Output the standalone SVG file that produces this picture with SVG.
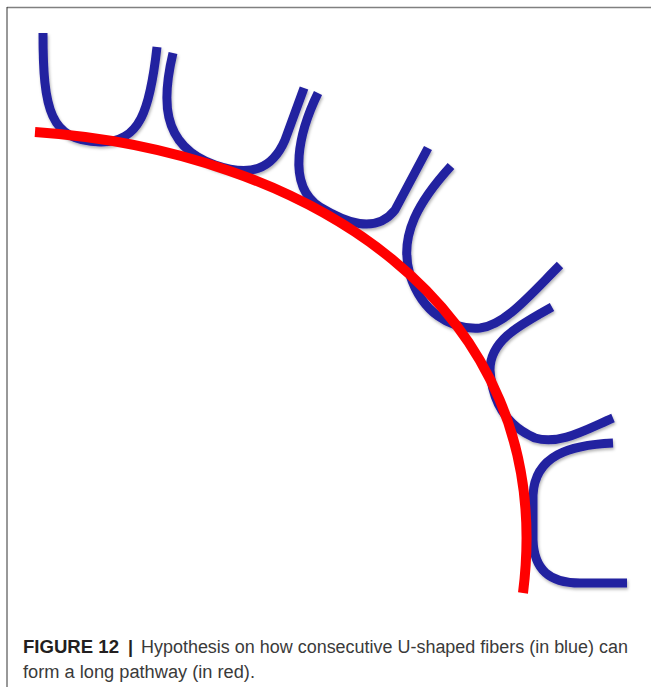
<svg xmlns="http://www.w3.org/2000/svg" width="651" height="687" viewBox="0 0 651 687">
  <style>
    .fiber { fill: none; stroke: #2420a0; stroke-width: 9; stroke-linecap: butt; stroke-linejoin: round; filter: url(#shadow); }
    .path { fill: none; stroke: #ff0000; stroke-width: 10; stroke-linecap: butt; }
    .cap { font-family: "Liberation Sans", Arial, sans-serif; font-size: 18px; fill: #3a3a3a; }
    .bold { font-weight: bold; fill: #231f20; }
  </style>
  <defs>
    <filter id="shadow" x="-20%" y="-20%" width="140%" height="140%">
      <feDropShadow dx="1" dy="2" stdDeviation="1.5" flood-color="#000" flood-opacity="0.3"/>
    </filter>
  </defs>
  <rect width="651" height="687" fill="#ffffff"/>
  <line x1="7" y1="7.5" x2="651" y2="7.5" stroke="#808080" stroke-width="1.5"/>
  <line x1="7" y1="7" x2="7" y2="687" stroke="#333333" stroke-width="1"/>

  <g id="fibers">
    <g id="fiber1"><path class="fiber" d="M43,33 C43,110 50,141 100,142 C140,143 150,110 157,47"/></g>
    <g id="fiber2"><path class="fiber" d="M173,53 C163,95 158,145 215,165 C250,177 272,170 285,140 L304,88"/></g>
    <g id="fiber3"><path class="fiber" d="M318,93 C300,130 285,185 320,207 C345,222 375,235 395,210 L428,148"/></g>
    <g id="fiber4"><path class="fiber" d="M451,166 C420,200 398,235 410,275 C422,312 450,330 480,328 C505,325 530,295 560,265"/></g>
    <g id="fiber5"><path class="fiber" d="M552,307 C520,325 490,340 490,370 C492,400 505,425 535,438 C560,445 585,430 613,418"/></g>
    <g id="fiber6"><path class="fiber" d="M613,443 C570,445 535,455 533,495 L533,540 C534,570 550,583 580,583 L627,583"/></g>
  </g>

  <g id="pathway">
    <path class="path" d="M35,132 C300,150 560,300 523,593"/>
  </g>

  <g id="caption">
    <text class="cap" y="653"><tspan class="bold" x="23" textLength="96" lengthAdjust="spacingAndGlyphs">FIGURE 12</tspan><tspan class="bold" x="128">|</tspan><tspan x="141" textLength="487" lengthAdjust="spacingAndGlyphs">Hypothesis on how consecutive U-shaped fibers (in blue) can</tspan></text>
    <text class="cap" x="23" y="678" textLength="232" lengthAdjust="spacingAndGlyphs">form a long pathway (in red).</text>
  </g>
</svg>
